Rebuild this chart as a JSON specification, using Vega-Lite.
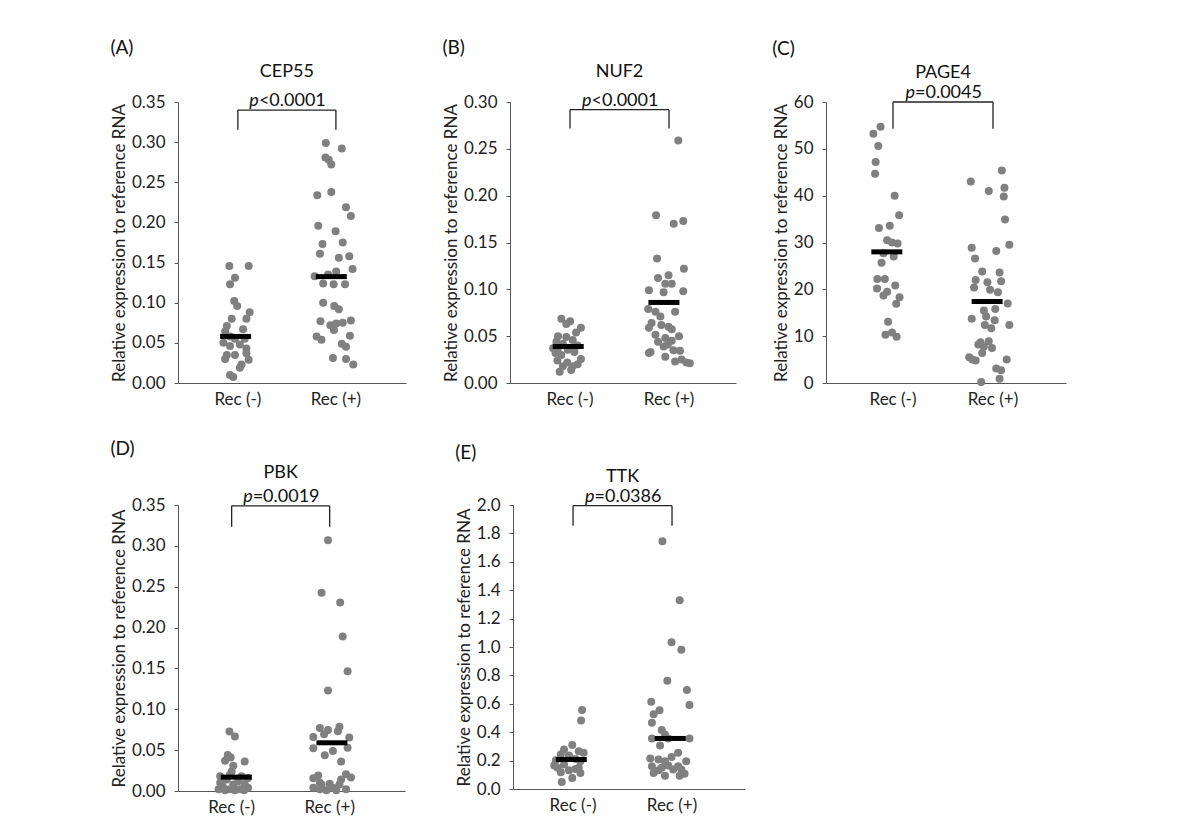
{
"$schema":"https://vega.github.io/schema/vega-lite/v6.json",
"background":"white",
"padding":{"top":39,"left":110,"right":5,"bottom":5},
"datasets":{
"A":[
{"k":"pt","g":"Rec (-)","v":0.1457,"j":-8.7},{"k":"pt","g":"Rec (-)","v":0.1457,"j":11},{"k":"pt","g":"Rec (-)","v":0.131,"j":-3},{"k":"pt","g":"Rec (-)","v":0.123,"j":-8},{"k":"pt","g":"Rec (-)","v":0.102,"j":-3.7},{"k":"pt","g":"Rec (-)","v":0.096,"j":-0.7},{"k":"pt","g":"Rec (-)","v":0.088,"j":12},{"k":"pt","g":"Rec (-)","v":0.080,"j":8.7},{"k":"pt","g":"Rec (-)","v":0.080,"j":-6.3},{"k":"pt","g":"Rec (-)","v":0.071,"j":-11.3},{"k":"pt","g":"Rec (-)","v":0.067,"j":5.3},{"k":"pt","g":"Rec (-)","v":0.064,"j":-13},{"k":"pt","g":"Rec (-)","v":0.058,"j":-8},{"k":"pt","g":"Rec (-)","v":0.055,"j":-3},{"k":"pt","g":"Rec (-)","v":0.055,"j":7},{"k":"pt","g":"Rec (-)","v":0.050,"j":-14.7},{"k":"pt","g":"Rec (-)","v":0.048,"j":2},{"k":"pt","g":"Rec (-)","v":0.046,"j":-8},{"k":"pt","g":"Rec (-)","v":0.043,"j":8.7},{"k":"pt","g":"Rec (-)","v":0.035,"j":-11.3},{"k":"pt","g":"Rec (-)","v":0.035,"j":-3},{"k":"pt","g":"Rec (-)","v":0.037,"j":8.7},{"k":"pt","g":"Rec (-)","v":0.030,"j":-13},{"k":"pt","g":"Rec (-)","v":0.029,"j":11},{"k":"pt","g":"Rec (-)","v":0.019,"j":2},{"k":"pt","g":"Rec (-)","v":0.010,"j":-8},{"k":"pt","g":"Rec (-)","v":0.0075,"j":-4.7},{"k":"pt","g":"Rec (-)","v":0.023,"j":3.7},
{"k":"pt","g":"Rec (+)","v":0.299,"j":-10.3},{"k":"pt","g":"Rec (+)","v":0.292,"j":6},{"k":"pt","g":"Rec (+)","v":0.281,"j":-10.7},{"k":"pt","g":"Rec (+)","v":0.278,"j":-7.3},{"k":"pt","g":"Rec (+)","v":0.272,"j":-4.7},{"k":"pt","g":"Rec (+)","v":0.234,"j":-19},{"k":"pt","g":"Rec (+)","v":0.238,"j":-4.7},{"k":"pt","g":"Rec (+)","v":0.219,"j":10.3},{"k":"pt","g":"Rec (+)","v":0.208,"j":15.3},{"k":"pt","g":"Rec (+)","v":0.196,"j":-18},{"k":"pt","g":"Rec (+)","v":0.189,"j":-0.3},{"k":"pt","g":"Rec (+)","v":0.173,"j":-13.7},{"k":"pt","g":"Rec (+)","v":0.175,"j":7},{"k":"pt","g":"Rec (+)","v":0.161,"j":-16.3},{"k":"pt","g":"Rec (+)","v":0.156,"j":3},{"k":"pt","g":"Rec (+)","v":0.158,"j":13.7},{"k":"pt","g":"Rec (+)","v":0.133,"j":-21.7},{"k":"pt","g":"Rec (+)","v":0.135,"j":-8},{"k":"pt","g":"Rec (+)","v":0.139,"j":0.3},{"k":"pt","g":"Rec (+)","v":0.142,"j":17},{"k":"pt","g":"Rec (+)","v":0.124,"j":-13},{"k":"pt","g":"Rec (+)","v":0.123,"j":-2.3},{"k":"pt","g":"Rec (+)","v":0.123,"j":9.3},{"k":"pt","g":"Rec (+)","v":0.100,"j":-13},{"k":"pt","g":"Rec (+)","v":0.096,"j":-1.7},{"k":"pt","g":"Rec (+)","v":0.092,"j":3},{"k":"pt","g":"Rec (+)","v":0.077,"j":-15.7},{"k":"pt","g":"Rec (+)","v":0.072,"j":-5.7},{"k":"pt","g":"Rec (+)","v":0.074,"j":0.3},{"k":"pt","g":"Rec (+)","v":0.075,"j":7},{"k":"pt","g":"Rec (+)","v":0.078,"j":15.3},{"k":"pt","g":"Rec (+)","v":0.066,"j":-2},{"k":"pt","g":"Rec (+)","v":0.058,"j":-19.7},{"k":"pt","g":"Rec (+)","v":0.054,"j":-14.7},{"k":"pt","g":"Rec (+)","v":0.059,"j":14.3},{"k":"pt","g":"Rec (+)","v":0.049,"j":6},{"k":"pt","g":"Rec (+)","v":0.045,"j":10.3},{"k":"pt","g":"Rec (+)","v":0.031,"j":-3},{"k":"pt","g":"Rec (+)","v":0.030,"j":10.3},{"k":"pt","g":"Rec (+)","v":0.023,"j":17.7},
{"k":"med","g":"Rec (-)","v":0.058,"j":-2.3},{"k":"med","g":"Rec (+)","v":0.1325,"j":-4.7},
{"k":"brh","g":"Rec (-)","g2":"Rec (+)","v":0.340},
{"k":"bra","g":"Rec (-)","v":0.340,"v2":0.3155},{"k":"bra","g":"Rec (+)","v":0.340,"v2":0.3155},
{"k":"gene","g":"Rec (-)","v":0.381,"t":"CEP55"},
{"k":"pit","g":"Rec (-)","v":0.345,"t":"p"},{"k":"pv","g":"Rec (-)","v":0.345,"t":"<0.0001"}
],
"B":[
{"k":"pt","g":"Rec (-)","v":0.0685,"j":-8.3},{"k":"pt","g":"Rec (-)","v":0.066,"j":0.7},{"k":"pt","g":"Rec (-)","v":0.063,"j":-3.3},{"k":"pt","g":"Rec (-)","v":0.059,"j":11.7},{"k":"pt","g":"Rec (-)","v":0.054,"j":6.7},{"k":"pt","g":"Rec (-)","v":0.050,"j":-11.7},{"k":"pt","g":"Rec (-)","v":0.049,"j":-3.3},{"k":"pt","g":"Rec (-)","v":0.046,"j":3.3},{"k":"pt","g":"Rec (-)","v":0.044,"j":-13.3},{"k":"pt","g":"Rec (-)","v":0.042,"j":-6.7},{"k":"pt","g":"Rec (-)","v":0.040,"j":8.3},{"k":"pt","g":"Rec (-)","v":0.037,"j":-11.7},{"k":"pt","g":"Rec (-)","v":0.0355,"j":-1.7},{"k":"pt","g":"Rec (-)","v":0.032,"j":-14.3},{"k":"pt","g":"Rec (-)","v":0.033,"j":5},{"k":"pt","g":"Rec (-)","v":0.030,"j":-8.3},{"k":"pt","g":"Rec (-)","v":0.0256,"j":11.7},{"k":"pt","g":"Rec (-)","v":0.024,"j":-12.3},{"k":"pt","g":"Rec (-)","v":0.022,"j":-2.3},{"k":"pt","g":"Rec (-)","v":0.020,"j":8.3},{"k":"pt","g":"Rec (-)","v":0.018,"j":-6.7},{"k":"pt","g":"Rec (-)","v":0.014,"j":1.7},{"k":"pt","g":"Rec (-)","v":0.012,"j":-10},{"k":"pt","g":"Rec (-)","v":0.018,"j":3.3},{"k":"pt","g":"Rec (-)","v":0.037,"j":-16.7},
{"k":"pt","g":"Rec (+)","v":0.259,"j":10},{"k":"pt","g":"Rec (+)","v":0.179,"j":-12.7},{"k":"pt","g":"Rec (+)","v":0.170,"j":5.3},{"k":"pt","g":"Rec (+)","v":0.173,"j":15},{"k":"pt","g":"Rec (+)","v":0.133,"j":-11.7},{"k":"pt","g":"Rec (+)","v":0.122,"j":15.7},{"k":"pt","g":"Rec (+)","v":0.112,"j":-10.7},{"k":"pt","g":"Rec (+)","v":0.115,"j":0},{"k":"pt","g":"Rec (+)","v":0.099,"j":-20},{"k":"pt","g":"Rec (+)","v":0.097,"j":-5},{"k":"pt","g":"Rec (+)","v":0.098,"j":15},{"k":"pt","g":"Rec (+)","v":0.106,"j":3.3},{"k":"pt","g":"Rec (+)","v":0.106,"j":-3.3},{"k":"pt","g":"Rec (+)","v":0.079,"j":-20.7},{"k":"pt","g":"Rec (+)","v":0.076,"j":-13.3},{"k":"pt","g":"Rec (+)","v":0.076,"j":6.7},{"k":"pt","g":"Rec (+)","v":0.071,"j":-8.3},{"k":"pt","g":"Rec (+)","v":0.064,"j":-17.3},{"k":"pt","g":"Rec (+)","v":0.062,"j":-7.3},{"k":"pt","g":"Rec (+)","v":0.060,"j":0},{"k":"pt","g":"Rec (+)","v":0.0575,"j":3.3},{"k":"pt","g":"Rec (+)","v":0.059,"j":-20},{"k":"pt","g":"Rec (+)","v":0.0515,"j":-13.3},{"k":"pt","g":"Rec (+)","v":0.050,"j":10.7},{"k":"pt","g":"Rec (+)","v":0.048,"j":-3.3},{"k":"pt","g":"Rec (+)","v":0.044,"j":-10.7},{"k":"pt","g":"Rec (+)","v":0.045,"j":3.3},{"k":"pt","g":"Rec (+)","v":0.039,"j":-5},{"k":"pt","g":"Rec (+)","v":0.041,"j":-0.7},{"k":"pt","g":"Rec (+)","v":0.033,"j":-18.3},{"k":"pt","g":"Rec (+)","v":0.035,"j":5},{"k":"pt","g":"Rec (+)","v":0.0345,"j":11.7},{"k":"pt","g":"Rec (+)","v":0.028,"j":-3.3},{"k":"pt","g":"Rec (+)","v":0.025,"j":13.3},{"k":"pt","g":"Rec (+)","v":0.022,"j":18.3},{"k":"pt","g":"Rec (+)","v":0.021,"j":21.7},{"k":"pt","g":"Rec (+)","v":0.023,"j":6.7},{"k":"pt","g":"Rec (+)","v":0.032,"j":-20},
{"k":"med","g":"Rec (-)","v":0.039,"j":-1.3},{"k":"med","g":"Rec (+)","v":0.086,"j":-4.7},
{"k":"brh","g":"Rec (-)","g2":"Rec (+)","v":0.2918},
{"k":"bra","g":"Rec (-)","v":0.2918,"v2":0.2716},{"k":"bra","g":"Rec (+)","v":0.2918,"v2":0.2716},
{"k":"gene","g":"Rec (-)","v":0.3266,"t":"NUF2"},
{"k":"pit","g":"Rec (-)","v":0.2957,"t":"p"},{"k":"pv","g":"Rec (-)","v":0.2957,"t":"<0.0001"}
],
"C":[
{"k":"pt","g":"Rec (-)","v":53.2,"j":-19},{"k":"pt","g":"Rec (-)","v":54.7,"j":-11.7},{"k":"pt","g":"Rec (-)","v":50.6,"j":-14},{"k":"pt","g":"Rec (-)","v":47.2,"j":-16.7},{"k":"pt","g":"Rec (-)","v":44.7,"j":-17.3},{"k":"pt","g":"Rec (-)","v":40.0,"j":2.7},{"k":"pt","g":"Rec (-)","v":35.8,"j":7.3},{"k":"pt","g":"Rec (-)","v":33.1,"j":-13.3},{"k":"pt","g":"Rec (-)","v":33.6,"j":-2.3},{"k":"pt","g":"Rec (-)","v":30.5,"j":-5},{"k":"pt","g":"Rec (-)","v":30.0,"j":0},{"k":"pt","g":"Rec (-)","v":29.8,"j":5.7},{"k":"pt","g":"Rec (-)","v":27.7,"j":-8.7},{"k":"pt","g":"Rec (-)","v":27.0,"j":1.7},{"k":"pt","g":"Rec (-)","v":25.7,"j":-10.7},{"k":"pt","g":"Rec (-)","v":22.2,"j":-15},{"k":"pt","g":"Rec (-)","v":22.2,"j":-7.3},{"k":"pt","g":"Rec (-)","v":20.8,"j":3.3},{"k":"pt","g":"Rec (-)","v":20.2,"j":-15.3},{"k":"pt","g":"Rec (-)","v":19.5,"j":-5},{"k":"pt","g":"Rec (-)","v":18.7,"j":-8.7},{"k":"pt","g":"Rec (-)","v":18.3,"j":7.7},{"k":"pt","g":"Rec (-)","v":16.9,"j":4.3},{"k":"pt","g":"Rec (-)","v":13.1,"j":-4},{"k":"pt","g":"Rec (-)","v":10.3,"j":-6.7},{"k":"pt","g":"Rec (-)","v":10.8,"j":0},{"k":"pt","g":"Rec (-)","v":9.9,"j":4.7},
{"k":"pt","g":"Rec (+)","v":43.0,"j":-21.7},{"k":"pt","g":"Rec (+)","v":41.0,"j":-3.3},{"k":"pt","g":"Rec (+)","v":45.4,"j":10},{"k":"pt","g":"Rec (+)","v":41.7,"j":12.7},{"k":"pt","g":"Rec (+)","v":39.8,"j":12},{"k":"pt","g":"Rec (+)","v":34.9,"j":13.3},{"k":"pt","g":"Rec (+)","v":29.5,"j":17.7},{"k":"pt","g":"Rec (+)","v":28.9,"j":-20.7},{"k":"pt","g":"Rec (+)","v":28.2,"j":4.3},{"k":"pt","g":"Rec (+)","v":26.6,"j":-17.3},{"k":"pt","g":"Rec (+)","v":23.8,"j":-10},{"k":"pt","g":"Rec (+)","v":23.6,"j":7.7},{"k":"pt","g":"Rec (+)","v":22.0,"j":-16.7},{"k":"pt","g":"Rec (+)","v":21.5,"j":-4.7},{"k":"pt","g":"Rec (+)","v":21.7,"j":9.3},{"k":"pt","g":"Rec (+)","v":20.4,"j":-18.3},{"k":"pt","g":"Rec (+)","v":19.9,"j":-2},{"k":"pt","g":"Rec (+)","v":19.4,"j":6},{"k":"pt","g":"Rec (+)","v":15.5,"j":-8.3},{"k":"pt","g":"Rec (+)","v":15.8,"j":3.3},{"k":"pt","g":"Rec (+)","v":17.0,"j":16},{"k":"pt","g":"Rec (+)","v":13.7,"j":-20.7},{"k":"pt","g":"Rec (+)","v":14.2,"j":-6},{"k":"pt","g":"Rec (+)","v":13.4,"j":2.7},{"k":"pt","g":"Rec (+)","v":12.4,"j":-7.3},{"k":"pt","g":"Rec (+)","v":11.7,"j":-0.7},{"k":"pt","g":"Rec (+)","v":12.4,"j":17.7},{"k":"pt","g":"Rec (+)","v":8.7,"j":-11.7},{"k":"pt","g":"Rec (+)","v":7.8,"j":-8.3},{"k":"pt","g":"Rec (+)","v":8.2,"j":-14},{"k":"pt","g":"Rec (+)","v":7.5,"j":0},{"k":"pt","g":"Rec (+)","v":8.9,"j":-3.3},{"k":"pt","g":"Rec (+)","v":5.5,"j":-23.3},{"k":"pt","g":"Rec (+)","v":4.8,"j":-16.7},{"k":"pt","g":"Rec (+)","v":6.4,"j":-10},{"k":"pt","g":"Rec (+)","v":3.1,"j":4.3},{"k":"pt","g":"Rec (+)","v":2.7,"j":9.3},{"k":"pt","g":"Rec (+)","v":5.0,"j":15},{"k":"pt","g":"Rec (+)","v":0.9,"j":7.7},{"k":"pt","g":"Rec (+)","v":0.2,"j":-11},{"k":"pt","g":"Rec (+)","v":5.0,"j":-20},
{"k":"med","g":"Rec (-)","v":28.0,"j":-5.3},{"k":"med","g":"Rec (+)","v":17.4,"j":-5},
{"k":"brh","g":"Rec (-)","g2":"Rec (+)","v":60.0},
{"k":"bra","g":"Rec (-)","v":60.0,"v2":54.3},{"k":"bra","g":"Rec (+)","v":60.0,"v2":54.3},
{"k":"gene","g":"Rec (-)","v":65.2,"t":"PAGE4"},
{"k":"pit","g":"Rec (-)","v":60.85,"t":"p"},{"k":"pv","g":"Rec (-)","v":60.85,"t":"=0.0045"}
],
"D":[
{"k":"pt","g":"Rec (-)","v":0.0728,"j":-2.3},{"k":"pt","g":"Rec (-)","v":0.0667,"j":3.3},{"k":"pt","g":"Rec (-)","v":0.0442,"j":-4},{"k":"pt","g":"Rec (-)","v":0.041,"j":-1},{"k":"pt","g":"Rec (-)","v":0.036,"j":13.3},{"k":"pt","g":"Rec (-)","v":0.037,"j":-6.7},{"k":"pt","g":"Rec (-)","v":0.031,"j":1.7},{"k":"pt","g":"Rec (-)","v":0.024,"j":0},{"k":"pt","g":"Rec (-)","v":0.018,"j":10},{"k":"pt","g":"Rec (-)","v":0.018,"j":-11.7},{"k":"pt","g":"Rec (-)","v":0.016,"j":16.7},{"k":"pt","g":"Rec (-)","v":0.014,"j":-5},{"k":"pt","g":"Rec (-)","v":0.012,"j":6.7},{"k":"pt","g":"Rec (-)","v":0.010,"j":-11.7},{"k":"pt","g":"Rec (-)","v":0.008,"j":1.7},{"k":"pt","g":"Rec (-)","v":0.009,"j":13.3},{"k":"pt","g":"Rec (-)","v":0.004,"j":-8.3},{"k":"pt","g":"Rec (-)","v":0.002,"j":-1.7},{"k":"pt","g":"Rec (-)","v":0.002,"j":8.3},{"k":"pt","g":"Rec (-)","v":0.004,"j":16.7},{"k":"pt","g":"Rec (-)","v":0.002,"j":-13.3},{"k":"pt","g":"Rec (-)","v":0.001,"j":3.3},{"k":"pt","g":"Rec (-)","v":0.001,"j":-6.7},{"k":"pt","g":"Rec (-)","v":0.001,"j":12.7},{"k":"pt","g":"Rec (-)","v":0.020,"j":-1.7},{"k":"pt","g":"Rec (-)","v":0.008,"j":-10},
{"k":"pt","g":"Rec (+)","v":0.307,"j":-1.7},{"k":"pt","g":"Rec (+)","v":0.2425,"j":-8.3},{"k":"pt","g":"Rec (+)","v":0.2307,"j":10.7},{"k":"pt","g":"Rec (+)","v":0.189,"j":13.3},{"k":"pt","g":"Rec (+)","v":0.1464,"j":18.3},{"k":"pt","g":"Rec (+)","v":0.123,"j":-1.7},{"k":"pt","g":"Rec (+)","v":0.077,"j":-10},{"k":"pt","g":"Rec (+)","v":0.0745,"j":-1.7},{"k":"pt","g":"Rec (+)","v":0.0785,"j":10},{"k":"pt","g":"Rec (+)","v":0.073,"j":8.3},{"k":"pt","g":"Rec (+)","v":0.066,"j":-16.7},{"k":"pt","g":"Rec (+)","v":0.0695,"j":-5.7},{"k":"pt","g":"Rec (+)","v":0.0655,"j":20},{"k":"pt","g":"Rec (+)","v":0.0524,"j":-16.7},{"k":"pt","g":"Rec (+)","v":0.0438,"j":-5},{"k":"pt","g":"Rec (+)","v":0.049,"j":3.3},{"k":"pt","g":"Rec (+)","v":0.053,"j":18.3},{"k":"pt","g":"Rec (+)","v":0.036,"j":11.7},{"k":"pt","g":"Rec (+)","v":0.019,"j":-11.7},{"k":"pt","g":"Rec (+)","v":0.0155,"j":-16.7},{"k":"pt","g":"Rec (+)","v":0.0205,"j":16.7},{"k":"pt","g":"Rec (+)","v":0.0164,"j":21.7},{"k":"pt","g":"Rec (+)","v":0.010,"j":-10},{"k":"pt","g":"Rec (+)","v":0.009,"j":0},{"k":"pt","g":"Rec (+)","v":0.008,"j":10},{"k":"pt","g":"Rec (+)","v":0.004,"j":3.3},{"k":"pt","g":"Rec (+)","v":0.004,"j":-16.7},{"k":"pt","g":"Rec (+)","v":0.001,"j":-3.3},{"k":"pt","g":"Rec (+)","v":0.001,"j":6.7},{"k":"pt","g":"Rec (+)","v":0.002,"j":16.7},{"k":"pt","g":"Rec (+)","v":0.002,"j":-10},{"k":"pt","g":"Rec (+)","v":0.014,"j":11.7},{"k":"pt","g":"Rec (+)","v":0.008,"j":-8.3},
{"k":"med","g":"Rec (-)","v":0.017,"j":4.7},{"k":"med","g":"Rec (+)","v":0.059,"j":2.3},
{"k":"brh","g":"Rec (-)","g2":"Rec (+)","v":0.349},
{"k":"bra","g":"Rec (-)","v":0.349,"v2":0.3234},{"k":"bra","g":"Rec (+)","v":0.349,"v2":0.3234},
{"k":"gene","g":"Rec (-)","v":0.3828,"t":"PBK"},
{"k":"pit","g":"Rec (-)","v":0.3533,"t":"p"},{"k":"pv","g":"Rec (-)","v":0.3533,"t":"=0.0019"}
],
"E":[
{"k":"pt","g":"Rec (-)","v":0.556,"j":9.7},{"k":"pt","g":"Rec (-)","v":0.483,"j":8.7},{"k":"pt","g":"Rec (-)","v":0.309,"j":-0.3},{"k":"pt","g":"Rec (-)","v":0.278,"j":-8.7},{"k":"pt","g":"Rec (-)","v":0.266,"j":6.3},{"k":"pt","g":"Rec (-)","v":0.243,"j":-12},{"k":"pt","g":"Rec (-)","v":0.255,"j":11.3},{"k":"pt","g":"Rec (-)","v":0.236,"j":-3.7},{"k":"pt","g":"Rec (-)","v":0.203,"j":-17},{"k":"pt","g":"Rec (-)","v":0.212,"j":3},{"k":"pt","g":"Rec (-)","v":0.196,"j":8},{"k":"pt","g":"Rec (-)","v":0.172,"j":-8.7},{"k":"pt","g":"Rec (-)","v":0.165,"j":-18.7},{"k":"pt","g":"Rec (-)","v":0.149,"j":6.3},{"k":"pt","g":"Rec (-)","v":0.132,"j":-3.7},{"k":"pt","g":"Rec (-)","v":0.118,"j":-12},{"k":"pt","g":"Rec (-)","v":0.078,"j":-0.3},{"k":"pt","g":"Rec (-)","v":0.050,"j":-11},{"k":"pt","g":"Rec (-)","v":0.141,"j":3},{"k":"pt","g":"Rec (-)","v":0.149,"j":-15.3},{"k":"pt","g":"Rec (-)","v":0.113,"j":8},
{"k":"pt","g":"Rec (+)","v":1.745,"j":-9.3},{"k":"pt","g":"Rec (+)","v":1.33,"j":8.3},{"k":"pt","g":"Rec (+)","v":1.033,"j":0},{"k":"pt","g":"Rec (+)","v":0.981,"j":10},{"k":"pt","g":"Rec (+)","v":0.762,"j":-4.3},{"k":"pt","g":"Rec (+)","v":0.698,"j":15.7},{"k":"pt","g":"Rec (+)","v":0.615,"j":-20.7},{"k":"pt","g":"Rec (+)","v":0.592,"j":18.3},{"k":"pt","g":"Rec (+)","v":0.554,"j":-12.3},{"k":"pt","g":"Rec (+)","v":0.526,"j":-18.3},{"k":"pt","g":"Rec (+)","v":0.467,"j":-20},{"k":"pt","g":"Rec (+)","v":0.415,"j":-10},{"k":"pt","g":"Rec (+)","v":0.384,"j":-6.7},{"k":"pt","g":"Rec (+)","v":0.356,"j":-20},{"k":"pt","g":"Rec (+)","v":0.356,"j":-3.3},{"k":"pt","g":"Rec (+)","v":0.356,"j":18.3},{"k":"pt","g":"Rec (+)","v":0.306,"j":-11.7},{"k":"pt","g":"Rec (+)","v":0.215,"j":-21.7},{"k":"pt","g":"Rec (+)","v":0.208,"j":-13.3},{"k":"pt","g":"Rec (+)","v":0.196,"j":-6.7},{"k":"pt","g":"Rec (+)","v":0.226,"j":0},{"k":"pt","g":"Rec (+)","v":0.255,"j":6.7},{"k":"pt","g":"Rec (+)","v":0.196,"j":15},{"k":"pt","g":"Rec (+)","v":0.160,"j":-20},{"k":"pt","g":"Rec (+)","v":0.149,"j":-10},{"k":"pt","g":"Rec (+)","v":0.165,"j":-3.3},{"k":"pt","g":"Rec (+)","v":0.160,"j":6.7},{"k":"pt","g":"Rec (+)","v":0.113,"j":-18.3},{"k":"pt","g":"Rec (+)","v":0.094,"j":-6.7},{"k":"pt","g":"Rec (+)","v":0.094,"j":8.3},{"k":"pt","g":"Rec (+)","v":0.108,"j":13.3},{"k":"pt","g":"Rec (+)","v":0.137,"j":1.7},{"k":"pt","g":"Rec (+)","v":0.132,"j":-13.3},{"k":"pt","g":"Rec (+)","v":0.137,"j":10},
{"k":"med","g":"Rec (-)","v":0.2075,"j":-1.3},{"k":"med","g":"Rec (+)","v":0.356,"j":-1.3},
{"k":"brh","g":"Rec (-)","g2":"Rec (+)","v":1.995},
{"k":"bra","g":"Rec (-)","v":1.995,"v2":1.854},{"k":"bra","g":"Rec (+)","v":1.995,"v2":1.854},
{"k":"gene","g":"Rec (-)","v":2.165,"t":"TTK"},
{"k":"pit","g":"Rec (-)","v":2.023,"t":"p"},{"k":"pv","g":"Rec (-)","v":2.023,"t":"=0.0386"}
]
},
"vconcat":[
{"hconcat":[
{"width":228,"height":281,"title":"(A)","data":{"name":"A"},
"encoding":{"x":{"field":"g","type":"nominal","sort":["Rec (-)","Rec (+)"],"scale":{"domain":["Rec (-)","Rec (+)"],"paddingInner":0,"paddingOuter":0.163,"align":0.34},"axis":{"title":null}},
"y":{"field":"v","type":"quantitative","scale":{"domain":[0,0.35],"nice":false},"axis":{"title":"Relative expression to reference RNA","values":[0,0.05,0.1,0.15,0.2,0.25,0.3,0.35],"format":".2f"}}},
"layer":[
{"transform":[{"filter":"datum.k==='pt'"}],"mark":{"type":"circle","size":64,"color":"#808080","opacity":1},"encoding":{"xOffset":{"field":"j","type":"quantitative","scale":{"domain":[-49,49]}}}},
{"transform":[{"filter":"datum.k==='med'"}],"mark":{"type":"tick","size":31,"thickness":5,"color":"#000","opacity":1,"orient":"horizontal"},"encoding":{"xOffset":{"field":"j","type":"quantitative"}}},
{"transform":[{"filter":"datum.k==='brh'"}],"mark":{"type":"rule","color":"#222","strokeWidth":1.3},"encoding":{"x2":{"field":"g2"}}},
{"transform":[{"filter":"datum.k==='bra'"}],"mark":{"type":"rule","color":"#222","strokeWidth":1.3},"encoding":{"y2":{"field":"v2"}}},
{"transform":[{"filter":"datum.k==='gene'"}],"mark":{"type":"text","fontSize":18,"align":"center","baseline":"alphabetic","color":"#111"},"encoding":{"x":{"field":"g","type":"nominal","bandPosition":1,"axis":{"title":null}},"text":{"field":"t"}}},
{"transform":[{"filter":"datum.k==='pit'"}],"mark":{"type":"text","fontSize":18,"align":"right","baseline":"alphabetic","fontStyle":"italic","dx":-28,"color":"#111"},"encoding":{"x":{"field":"g","type":"nominal","bandPosition":1,"axis":{"title":null}},"text":{"field":"t"}}},
{"transform":[{"filter":"datum.k==='pv'"}],"mark":{"type":"text","fontSize":18,"align":"left","baseline":"alphabetic","dx":-28,"color":"#111"},"encoding":{"x":{"field":"g","type":"nominal","bandPosition":1,"axis":{"title":null}},"text":{"field":"t"}}}
]},
{"width":226,"height":281,"title":"(B)","data":{"name":"B"},
"encoding":{"x":{"field":"g","type":"nominal","sort":["Rec (-)","Rec (+)"],"scale":{"domain":["Rec (-)","Rec (+)"],"paddingInner":0,"paddingOuter":0.141,"align":0.375},"axis":{"title":null}},
"y":{"field":"v","type":"quantitative","scale":{"domain":[0,0.30],"nice":false},"axis":{"title":"Relative expression to reference RNA","values":[0,0.05,0.1,0.15,0.2,0.25,0.3],"format":".2f"}}},
"layer":[
{"transform":[{"filter":"datum.k==='pt'"}],"mark":{"type":"circle","size":64,"color":"#808080","opacity":1},"encoding":{"xOffset":{"field":"j","type":"quantitative","scale":{"domain":[-49.5,49.5]}}}},
{"transform":[{"filter":"datum.k==='med'"}],"mark":{"type":"tick","size":31,"thickness":5,"color":"#000","opacity":1,"orient":"horizontal"},"encoding":{"xOffset":{"field":"j","type":"quantitative"}}},
{"transform":[{"filter":"datum.k==='brh'"}],"mark":{"type":"rule","color":"#222","strokeWidth":1.3},"encoding":{"x2":{"field":"g2"}}},
{"transform":[{"filter":"datum.k==='bra'"}],"mark":{"type":"rule","color":"#222","strokeWidth":1.3},"encoding":{"y2":{"field":"v2"}}},
{"transform":[{"filter":"datum.k==='gene'"}],"mark":{"type":"text","fontSize":18,"align":"center","baseline":"alphabetic","color":"#111"},"encoding":{"x":{"field":"g","type":"nominal","bandPosition":1,"axis":{"title":null}},"text":{"field":"t"}}},
{"transform":[{"filter":"datum.k==='pit'"}],"mark":{"type":"text","fontSize":18,"align":"right","baseline":"alphabetic","fontStyle":"italic","dx":-28,"color":"#111"},"encoding":{"x":{"field":"g","type":"nominal","bandPosition":1,"axis":{"title":null}},"text":{"field":"t"}}},
{"transform":[{"filter":"datum.k==='pv'"}],"mark":{"type":"text","fontSize":18,"align":"left","baseline":"alphabetic","dx":-28,"color":"#111"},"encoding":{"x":{"field":"g","type":"nominal","bandPosition":1,"axis":{"title":null}},"text":{"field":"t"}}}
]},
{"width":240,"height":281,"title":"(C)","data":{"name":"C"},
"encoding":{"x":{"field":"g","type":"nominal","sort":["Rec (-)","Rec (+)"],"scale":{"domain":["Rec (-)","Rec (+)"],"paddingInner":0,"paddingOuter":0.2,"align":0.425},"axis":{"title":null}},
"y":{"field":"v","type":"quantitative","scale":{"domain":[0,60],"nice":false},"axis":{"title":"Relative expression to reference RNA","values":[0,10,20,30,40,50,60],"format":"d"}}},
"layer":[
{"transform":[{"filter":"datum.k==='pt'"}],"mark":{"type":"circle","size":64,"color":"#808080","opacity":1},"encoding":{"xOffset":{"field":"j","type":"quantitative","scale":{"domain":[-50,50]}}}},
{"transform":[{"filter":"datum.k==='med'"}],"mark":{"type":"tick","size":31,"thickness":5,"color":"#000","opacity":1,"orient":"horizontal"},"encoding":{"xOffset":{"field":"j","type":"quantitative"}}},
{"transform":[{"filter":"datum.k==='brh'"}],"mark":{"type":"rule","color":"#222","strokeWidth":1.3},"encoding":{"x2":{"field":"g2"}}},
{"transform":[{"filter":"datum.k==='bra'"}],"mark":{"type":"rule","color":"#222","strokeWidth":1.3},"encoding":{"y2":{"field":"v2"}}},
{"transform":[{"filter":"datum.k==='gene'"}],"mark":{"type":"text","fontSize":18,"align":"center","baseline":"alphabetic","color":"#111"},"encoding":{"x":{"field":"g","type":"nominal","bandPosition":1,"axis":{"title":null}},"text":{"field":"t"}}},
{"transform":[{"filter":"datum.k==='pit'"}],"mark":{"type":"text","fontSize":18,"align":"right","baseline":"alphabetic","fontStyle":"italic","dx":-28,"color":"#111"},"encoding":{"x":{"field":"g","type":"nominal","bandPosition":1,"axis":{"title":null}},"text":{"field":"t"}}},
{"transform":[{"filter":"datum.k==='pv'"}],"mark":{"type":"text","fontSize":18,"align":"left","baseline":"alphabetic","dx":-28,"color":"#111"},"encoding":{"x":{"field":"g","type":"nominal","bandPosition":1,"axis":{"title":null}},"text":{"field":"t"}}}
]}
],"spacing":36},
{"hconcat":[
{"width":227,"height":286,"title":"(D)","data":{"name":"D"},
"encoding":{"x":{"field":"g","type":"nominal","sort":["Rec (-)","Rec (+)"],"scale":{"domain":["Rec (-)","Rec (+)"],"paddingInner":0,"paddingOuter":0.158,"align":0.15},"axis":{"title":null}},
"y":{"field":"v","type":"quantitative","scale":{"domain":[0,0.35],"nice":false},"axis":{"title":"Relative expression to reference RNA","values":[0,0.05,0.1,0.15,0.2,0.25,0.3,0.35],"format":".2f"}}},
"layer":[
{"transform":[{"filter":"datum.k==='pt'"}],"mark":{"type":"circle","size":64,"color":"#808080","opacity":1},"encoding":{"xOffset":{"field":"j","type":"quantitative","scale":{"domain":[-49,49]}}}},
{"transform":[{"filter":"datum.k==='med'"}],"mark":{"type":"tick","size":31,"thickness":5,"color":"#000","opacity":1,"orient":"horizontal"},"encoding":{"xOffset":{"field":"j","type":"quantitative"}}},
{"transform":[{"filter":"datum.k==='brh'"}],"mark":{"type":"rule","color":"#222","strokeWidth":1.3},"encoding":{"x2":{"field":"g2"}}},
{"transform":[{"filter":"datum.k==='bra'"}],"mark":{"type":"rule","color":"#222","strokeWidth":1.3},"encoding":{"y2":{"field":"v2"}}},
{"transform":[{"filter":"datum.k==='gene'"}],"mark":{"type":"text","fontSize":18,"align":"center","baseline":"alphabetic","color":"#111"},"encoding":{"x":{"field":"g","type":"nominal","bandPosition":1,"axis":{"title":null}},"text":{"field":"t"}}},
{"transform":[{"filter":"datum.k==='pit'"}],"mark":{"type":"text","fontSize":18,"align":"right","baseline":"alphabetic","fontStyle":"italic","dx":-28,"color":"#111"},"encoding":{"x":{"field":"g","type":"nominal","bandPosition":1,"axis":{"title":null}},"text":{"field":"t"}}},
{"transform":[{"filter":"datum.k==='pv'"}],"mark":{"type":"text","fontSize":18,"align":"left","baseline":"alphabetic","dx":-28,"color":"#111"},"encoding":{"x":{"field":"g","type":"nominal","bandPosition":1,"axis":{"title":null}},"text":{"field":"t"}}}
]},
{"width":232,"height":284,"title":"(E)","data":{"name":"E"},
"encoding":{"x":{"field":"g","type":"nominal","sort":["Rec (-)","Rec (+)"],"scale":{"domain":["Rec (-)","Rec (+)"],"paddingInner":0,"paddingOuter":0.172,"align":0.31},"axis":{"title":null}},
"y":{"field":"v","type":"quantitative","scale":{"domain":[0,2.0],"nice":false},"axis":{"title":"Relative expression to reference RNA","values":[0,0.2,0.4,0.6,0.8,1.0,1.2,1.4,1.6,1.8,2.0],"format":".1f"}}},
"layer":[
{"transform":[{"filter":"datum.k==='pt'"}],"mark":{"type":"circle","size":64,"color":"#808080","opacity":1},"encoding":{"xOffset":{"field":"j","type":"quantitative","scale":{"domain":[-49.5,49.5]}}}},
{"transform":[{"filter":"datum.k==='med'"}],"mark":{"type":"tick","size":31,"thickness":5,"color":"#000","opacity":1,"orient":"horizontal"},"encoding":{"xOffset":{"field":"j","type":"quantitative"}}},
{"transform":[{"filter":"datum.k==='brh'"}],"mark":{"type":"rule","color":"#222","strokeWidth":1.3},"encoding":{"x2":{"field":"g2"}}},
{"transform":[{"filter":"datum.k==='bra'"}],"mark":{"type":"rule","color":"#222","strokeWidth":1.3},"encoding":{"y2":{"field":"v2"}}},
{"transform":[{"filter":"datum.k==='gene'"}],"mark":{"type":"text","fontSize":18,"align":"center","baseline":"alphabetic","color":"#111"},"encoding":{"x":{"field":"g","type":"nominal","bandPosition":1,"axis":{"title":null}},"text":{"field":"t"}}},
{"transform":[{"filter":"datum.k==='pit'"}],"mark":{"type":"text","fontSize":18,"align":"right","baseline":"alphabetic","fontStyle":"italic","dx":-28,"color":"#111"},"encoding":{"x":{"field":"g","type":"nominal","bandPosition":1,"axis":{"title":null}},"text":{"field":"t"}}},
{"transform":[{"filter":"datum.k==='pv'"}],"mark":{"type":"text","fontSize":18,"align":"left","baseline":"alphabetic","dx":-28,"color":"#111"},"encoding":{"x":{"field":"g","type":"nominal","bandPosition":1,"axis":{"title":null}},"text":{"field":"t"}}}
]}
],"spacing":50}
],
"spacing":33,
"config":{
"font":"Lato",
"view":{"stroke":null},
"title":{"anchor":"start","frame":"bounds","fontSize":19,"fontWeight":"normal","color":"#111","offset":5,"font":"Lato"},
"axis":{"labelFont":"Lato","titleFont":"Lato","labelColor":"#222","titleColor":"#222","domainColor":"#555","tickColor":"#555","grid":false,"labelFontSize":17,"titleFontSize":17,"titleFontWeight":"normal"},
"axisX":{"ticks":false,"labelFontSize":17,"labelPadding":8,"labelAngle":0},
"axisY":{"tickSize":4,"labelPadding":9,"titlePadding":3}
}
}
